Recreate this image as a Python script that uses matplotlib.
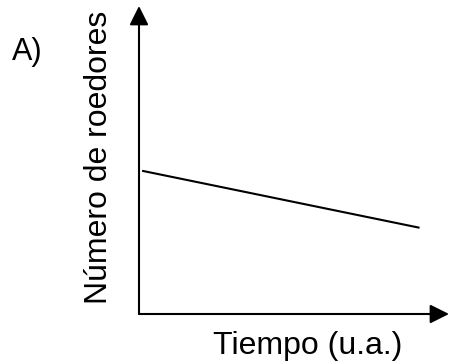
import matplotlib
matplotlib.use('Agg')
import matplotlib.pyplot as plt

plt.rcParams['font.family'] = ['Liberation Sans', 'DejaVu Sans']

# roedores a lo largo del tiempo (unidades arbitrarias)
tiempo = [0.1, 9.05]
roedores = [4.65, 2.8]

panel = "A)"
x_label = "Tiempo (u.a.)"
y_label = "Número de roedores"

fig = plt.figure(figsize=(4.5, 3.64), dpi=100)
ax = fig.add_axes([139 / 450, 50 / 364, 310 / 450, 308 / 364])
ax.set_xlim(0, 10)
ax.set_ylim(0, 10)
ax.axis('off')

ax.plot(tiempo, roedores, color='black', lw=1.5, solid_capstyle='butt')

arrow = dict(arrowstyle='-|>,head_length=0.8,head_width=0.4',
             mutation_scale=14.4, lw=1.5, color='black',
             shrinkA=0, shrinkB=0)
ax.annotate('', xy=(1, 0), xytext=(0, 0), xycoords='axes fraction',
            arrowprops=arrow)
ax.annotate('', xy=(0, 1), xytext=(0, 0), xycoords='axes fraction',
            arrowprops=arrow)

fig.text(308 / 450, 1 - 354 / 364, x_label, fontsize=23,
         ha='center', va='baseline')
fig.text(99 / 450, 1 - 157 / 364, y_label, fontsize=23, rotation=90,
         ha='center', va='center')
fig.text(12 / 450, 1 - 60 / 364, panel, fontsize=22,
         ha='left', va='baseline')

fig.savefig('out.png', dpi=100)
